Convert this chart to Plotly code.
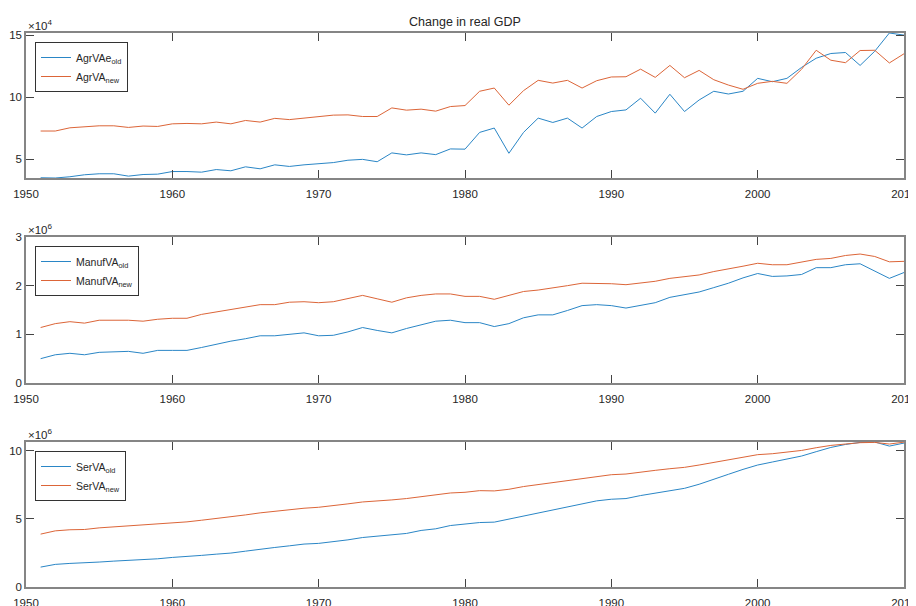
import plotly.graph_objects as go
from plotly.subplots import make_subplots

years = list(range(1951, 2011))

# Panel 1: agricultural value added (units of 1e4)
agr_old = [3.52, 3.50, 3.60, 3.76, 3.84, 3.84, 3.65, 3.78, 3.81, 4.02,
           4.02, 3.97, 4.18, 4.08, 4.40, 4.24, 4.56, 4.43, 4.56, 4.64,
           4.74, 4.93, 5.00, 4.81, 5.52, 5.36, 5.52, 5.38, 5.84, 5.82,
           7.17, 7.52, 5.49, 7.17, 8.32, 7.97, 8.32, 7.52, 8.45, 8.85,
           8.98, 9.92, 8.72, 10.24, 8.85, 9.78, 10.48, 10.26, 10.48, 11.52,
           11.25, 11.52, 12.40, 13.14, 13.52, 13.60, 12.56, 13.70, 15.17, 15.00]
agr_new = [7.28, 7.28, 7.54, 7.65, 7.70, 7.70, 7.57, 7.68, 7.65, 7.86,
           7.89, 7.86, 8.00, 7.86, 8.13, 8.00, 8.30, 8.20, 8.30, 8.40,
           8.56, 8.58, 8.45, 8.45, 9.14, 8.96, 9.04, 8.88, 9.25, 9.33,
           10.48, 10.74, 9.36, 10.53, 11.36, 11.14, 11.36, 10.74, 11.33, 11.63,
           11.65, 12.26, 11.60, 12.56, 11.57, 12.16, 11.41, 10.98, 10.64, 11.12,
           11.28, 11.12, 12.25, 13.78, 12.98, 12.78, 13.76, 13.78, 12.76, 13.50]

# Panel 2: manufacturing value added (units of 1e6)
man_old = [0.50, 0.58, 0.61, 0.58, 0.63, 0.64, 0.65, 0.61, 0.67, 0.67,
           0.67, 0.73, 0.80, 0.86, 0.91, 0.97, 0.97, 1.00, 1.03, 0.97,
           0.98, 1.05, 1.14, 1.08, 1.03, 1.12, 1.20, 1.27, 1.29, 1.24,
           1.24, 1.16, 1.22, 1.34, 1.40, 1.40, 1.49, 1.59, 1.61, 1.59,
           1.54, 1.59, 1.65, 1.76, 1.82, 1.87, 1.96, 2.05, 2.16, 2.25,
           2.19, 2.20, 2.23, 2.37, 2.37, 2.43, 2.45, 2.30, 2.15, 2.27]
man_new = [1.14, 1.22, 1.26, 1.23, 1.29, 1.29, 1.29, 1.27, 1.31, 1.33,
           1.33, 1.41, 1.46, 1.51, 1.56, 1.61, 1.61, 1.66, 1.67, 1.65,
           1.67, 1.73, 1.80, 1.73, 1.66, 1.75, 1.80, 1.83, 1.83, 1.78,
           1.78, 1.72, 1.80, 1.88, 1.91, 1.95, 2.00, 2.05, 2.05, 2.04,
           2.02, 2.05, 2.09, 2.15, 2.19, 2.22, 2.29, 2.34, 2.40, 2.46,
           2.43, 2.43, 2.48, 2.54, 2.56, 2.62, 2.65, 2.60, 2.49, 2.50]

# Panel 3: services value added (units of 1e6)
ser_old = [1.46, 1.66, 1.73, 1.76, 1.83, 1.90, 1.95, 1.98, 2.07, 2.17,
           2.22, 2.32, 2.41, 2.49, 2.63, 2.78, 2.90, 3.02, 3.15, 3.20,
           3.32, 3.46, 3.63, 3.73, 3.78, 3.93, 4.15, 4.27, 4.51, 4.63,
           4.73, 4.76, 4.98, 5.22, 5.44, 5.66, 5.83, 6.07, 6.32, 6.44,
           6.49, 6.71, 6.88, 7.10, 7.24, 7.54, 7.88, 8.27, 8.63, 8.95,
           9.17, 9.37, 9.61, 9.93, 10.24, 10.46, 10.61, 10.64, 10.34, 10.56]
ser_new = [3.88, 4.12, 4.20, 4.22, 4.34, 4.41, 4.49, 4.54, 4.63, 4.73,
           4.78, 4.90, 5.02, 5.15, 5.29, 5.44, 5.56, 5.71, 5.78, 5.85,
           5.95, 6.10, 6.24, 6.29, 6.39, 6.49, 6.61, 6.78, 6.90, 6.95,
           7.07, 7.05, 7.17, 7.37, 7.51, 7.68, 7.80, 7.93, 8.12, 8.24,
           8.29, 8.44, 8.56, 8.68, 8.78, 8.95, 9.15, 9.34, 9.54, 9.71,
           9.78, 9.90, 10.02, 10.22, 10.39, 10.49, 10.59, 10.61, 10.49, 10.63]

x_ticks = [1950, 1960, 1970, 1980, 1990, 2000, 2010]
panels = [
    ("AgrVAe<sub>old</sub>", agr_old, "AgrVA<sub>new</sub>", agr_new, "×10<sup>4</sup>", [5, 10, 15]),
    ("ManufVA<sub>old</sub>", man_old, "ManufVA<sub>new</sub>", man_new, "×10<sup>6</sup>", [0, 1, 2, 3]),
    ("SerVA<sub>old</sub>", ser_old, "SerVA<sub>new</sub>", ser_new, "×10<sup>6</sup>", [0, 5, 10]),
]
y_ranges = [
    [min(agr_old + agr_new), max(agr_old + agr_new)],
    [0, 3],
    [0, max(ser_old + ser_new)],
]

BLUE = "#2a86c6"
ORANGE = "#dc6538"
FONT = "Liberation Sans, Arial, sans-serif"
AX = "#858585"
TXT = "#262626"

# the page body adds an 8px offset; plot area is placed accordingly
W, HGT = 916, 606
ML, MT, MR, MB = 18, 25, 20, 27
fig = make_subplots(rows=3, cols=1)
H = HGT - MT - MB  # 554


def yp(screen_y):
    return (H - (screen_y - 8 - MT)) / H


domains = [[yp(178), 1.0], [yp(383), yp(237)], [0.0, yp(442)]]
legend_tops = [yp(42), yp(246), yp(451)]
legend_names = ["legend", "legend2", "legend3"]

for i, (n1, d1, n2, d2, expo, yt) in enumerate(panels):
    r = i + 1
    fig.add_trace(go.Scatter(x=years, y=d1, name=n1, mode="lines",
                             line=dict(color=BLUE, width=1), legend=legend_names[i]), row=r, col=1)
    fig.add_trace(go.Scatter(x=years, y=d2, name=n2, mode="lines",
                             line=dict(color=ORANGE, width=1), legend=legend_names[i]), row=r, col=1)
    fig.update_xaxes(range=[1950, 2010], tickvals=x_ticks, ticks="inside", ticklen=8,
                     tickcolor="#444", showline=True, linecolor=AX, linewidth=1.5,
                     mirror="allticks", showgrid=False, zeroline=False, automargin=False,
                     ticklabelstandoff=4,
                     tickfont=dict(size=11.5, color=TXT, family=FONT), row=r, col=1)
    fig.update_yaxes(range=y_ranges[i], tickvals=yt, ticks="inside", ticklen=8,
                     tickcolor="#444", showline=True, linecolor=AX, linewidth=1.5,
                     mirror="allticks", showgrid=False, zeroline=False, automargin=False,
                     domain=domains[i],
                     tickfont=dict(size=11.5, color=TXT, family=FONT), row=r, col=1)
    fig.add_annotation(text=expo, xref="paper", yref="paper", x=0, y=domains[i][1],
                       xanchor="left", yanchor="bottom", showarrow=False, yshift=-1,
                       font=dict(size=11.5, color=TXT, family=FONT))

legend_style = dict(x=9 / 878, xanchor="left", yanchor="top", bgcolor="white",
                    bordercolor="#333", borderwidth=1, tracegroupgap=0,
                    font=dict(size=10.5, color=TXT, family=FONT), itemwidth=30)
fig.update_layout(
    legend=dict(y=legend_tops[0], **legend_style),
    legend2=dict(y=legend_tops[1], **legend_style),
    legend3=dict(y=legend_tops[2], **legend_style),
)

fig.update_layout(
    template="none",
    width=W, height=HGT,
    margin=dict(l=ML, r=MR, t=MT, b=MB, autoexpand=False),
    paper_bgcolor="white", plot_bgcolor="white",
    title=dict(text="Change in real GDP", x=0.5, xref="paper", xanchor="center",
               y=1 - 14 / HGT, yref="container", yanchor="middle", pad=dict(t=0, b=0),
               font=dict(size=12.5, color=TXT, family=FONT)),
    showlegend=True,
)

fig.write_html("out.html")
